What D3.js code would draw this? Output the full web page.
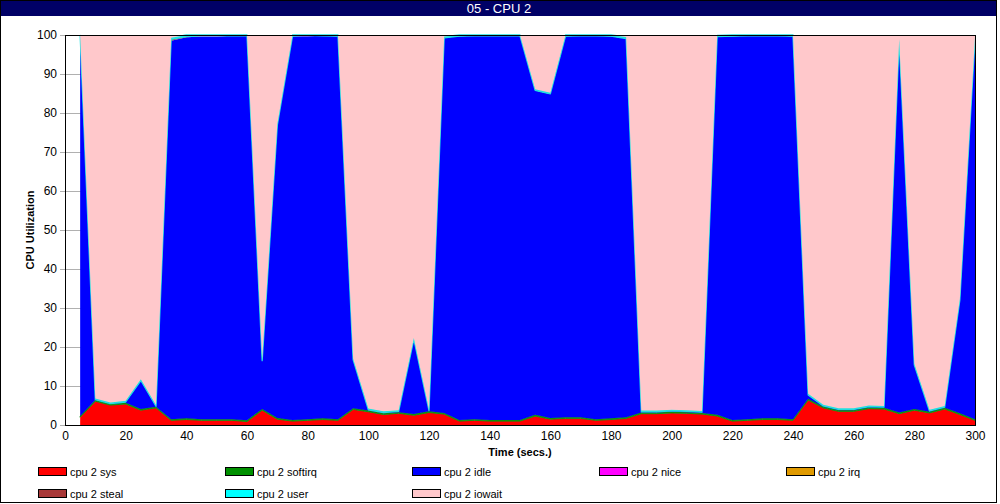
<!DOCTYPE html>
<html><head><meta charset="utf-8">
<script src="https://cdn.jsdelivr.net/npm/d3@7"></script>
<style>html,body{margin:0;padding:0;background:#fff;}svg{display:block;}</style>
</head><body>
<svg id="chart" width="1000" height="504"></svg>
<script>
const title = "05 - CPU 2";
const times = [5,10,15,20,25,30,35,40,45,50,55,60,65,70,75,80,85,90,95,100,105,110,115,120,125,130,135,140,145,150,155,160,165,170,175,180,185,190,195,200,205,210,215,220,225,230,235,240,245,250,255,260,265,270,275,280,285,290,295,300];
const sys = [2.0,6.1,5.1,5.4,3.8,4.4,1.2,1.4,1.2,1.2,1.2,0.9,3.8,1.5,1.0,1.2,1.4,1.2,4.0,3.4,2.7,3.0,2.5,3.2,2.8,1.0,1.2,1.0,1.0,1.0,2.3,1.5,1.7,1.7,1.2,1.4,1.7,2.9,2.9,3.1,3.0,2.8,2.3,1.0,1.2,1.4,1.4,1.2,6.4,4.4,3.5,3.5,4.2,4.1,2.9,3.8,3.1,4.1,2.7,1.2];
const softirq = [0.3,0.3,0.3,0.3,0.3,0.3,0.3,0.3,0.3,0.3,0.3,0.3,0.3,0.3,0.3,0.3,0.3,0.3,0.3,0.3,0.3,0.3,0.3,0.3,0.3,0.3,0.3,0.3,0.3,0.3,0.3,0.3,0.3,0.3,0.3,0.3,0.3,0.3,0.3,0.3,0.3,0.3,0.3,0.3,0.3,0.3,0.3,0.3,0.3,0.3,0.3,0.3,0.3,0.3,0.3,0.3,0.3,0.3,0.3,0.3];
const idle = [97.3,0.1,0.1,0.2,7.3,0.1,97.0,97.7,98.1,98.1,98.3,98.6,12.4,75.1,98.4,98.2,98.1,98.2,12.4,0.2,0.2,0.2,19.2,0.2,96.2,98.4,98.3,98.5,98.5,98.5,83.2,83.1,97.7,97.8,98.3,98.0,97.1,0.2,0.2,0.2,0.2,0.2,97.0,98.4,98.3,98.1,98.1,98.2,1.0,0.2,0.2,0.2,0.2,0.2,95.5,11.3,0.2,0.2,29.0,97.7];
const nice = [0,0,0,0,0,0,0,0,0.2,0.2,0,0,0,0,0,0.2,0,0,0,0,0,0,0,0,0,0,0,0,0,0,0,0,0,0,0,0,0,0,0,0,0,0,0,0,0,0,0,0,0,0,0,0,0,0,0,0,0,0,0,0];
const irq = [0,0,0,0,0,0,0,0,0,0,0,0,0,0,0,0,0,0,0,0,0,0,0,0,0,0,0,0,0,0,0,0,0,0,0,0,0,0,0,0,0,0,0,0,0,0,0,0,0,0,0,0,0,0,0,0,0,0,0,0];
const steal = [0,0,0,0,0,0,0.4,0.2,0,0,0,0,0,0,0,0,0,0,0,0,0,0,0,0,0,0,0,0,0,0,0,0,0,0,0,0,0,0,0,0,0,0,0,0,0,0,0,0,0,0,0,0,0,0,0,0,0,0,0,0];
const user = [0.3,0.3,0.3,0.3,0.3,0.3,0.4,0.4,0.2,0.2,0.2,0.2,0.3,0.3,0.3,0.1,0.2,0.3,0.3,0.3,0.3,0.3,0.3,0.3,0.3,0.3,0.2,0.2,0.2,0.2,0.3,0.3,0.3,0.2,0.2,0.3,0.4,0.3,0.3,0.3,0.3,0.3,0.3,0.3,0.2,0.2,0.2,0.3,0.3,0.3,0.3,0.3,0.3,0.3,0.3,0.3,0.3,0.3,0.3,0.3];
const iowait = [0.1,93.2,94.2,93.8,88.3,94.9,0.7,0.0,0,0,0,0,83.2,22.8,0,0,0,0,83.0,95.8,96.5,96.2,77.7,96.0,0.4,0,0,0,0,0,13.9,14.8,0,0,0,0,0.5,96.3,96.3,96.1,96.2,96.4,0.1,0,0,0,0,0,92.0,94.8,95.7,95.7,95.0,95.1,1.0,84.3,96.1,95.1,67.7,0.5];

const seriesNames = ["cpu 2 sys","cpu 2 softirq","cpu 2 idle","cpu 2 nice","cpu 2 irq","cpu 2 steal","cpu 2 user","cpu 2 iowait"];
const seriesColors = ["#ff0000","#009000","#0000ff","#ff00ff","#e09a00","#a83838","#00ffff","#ffc8cb"];
const xTicks = [0,20,40,60,80,100,120,140,160,180,200,220,240,260,280,300];
const yTicks = [0,10,20,30,40,50,60,70,80,90,100];

const keys = ["sys","softirq","idle","nice","irq","steal","user","iowait"];
const cols = [sys,softirq,idle,nice,irq,steal,user,iowait];
const rows = times.map((t,i)=>{const r={t}; keys.forEach((k,j)=>r[k]=cols[j][i]); return r;});

const svg = d3.select("#chart");
const W=1000,H=504;
const pL=65,pR=975,pT=35,pB=425;
const x = d3.scaleLinear().domain([0,300]).range([pL,pR]);
const y = d3.scaleLinear().domain([0,100]).range([pB,pT]);
const font = "'Liberation Sans', Arial, sans-serif";

// outer frame & title bar
svg.append("rect").attr("x",0).attr("y",0).attr("width",W).attr("height",H).attr("fill","#fff");
svg.append("rect").attr("x",0.5).attr("y",0.5).attr("width",996).attr("height",502).attr("fill","none").attr("stroke","#000");
svg.append("rect").attr("x",1).attr("y",1).attr("width",995).attr("height",15).attr("fill","#000066");
svg.append("text").attr("x",499).attr("y",13).attr("text-anchor","middle").attr("fill","#fff")
  .attr("font-family",font).attr("font-size",13).text(title);

// gridlines
svg.append("g").selectAll("line").data(yTicks).join("line")
  .attr("x1",pL-5).attr("x2",pR).attr("y1",d=>y(d)+0.5).attr("y2",d=>y(d)+0.5)
  .attr("stroke","#b0b0b0").attr("stroke-width",1);

// stacked areas
const stack = d3.stack().keys(keys)(rows);
const area = d3.area().x(d=>x(d.data.t)).y0(d=>y(d[0])).y1(d=>y(d[1])).curve(d3.curveLinear);
const g = svg.append("g");
stack.forEach((s,i)=>{
  const p = g.append("path").datum(s).attr("d",area).attr("fill",seriesColors[i]);
  if (keys[i]==="user") p.attr("stroke","#20e0e0").attr("stroke-width",1.3).attr("stroke-linejoin","round");
  if (keys[i]==="softirq") p.attr("stroke","#109010").attr("stroke-width",1);
});

// axes
const yAxis = d3.axisLeft(y).tickValues(yTicks).tickSize(0).tickPadding(8);
const ya = svg.append("g").attr("transform",`translate(${pL},0)`).call(yAxis);
const xAxis = d3.axisBottom(x).tickValues(xTicks).tickSize(0).tickPadding(6);
const xa = svg.append("g").attr("transform",`translate(0,${pB})`).call(xAxis);
[ya,xa].forEach(a=>{a.select(".domain").remove(); a.selectAll("text").attr("font-family",font).attr("font-size",12).attr("fill","#000");});

// plot border
svg.append("rect").attr("x",pL+0.5).attr("y",pT+0.5).attr("width",pR-pL).attr("height",pB-pT)
  .attr("fill","none").attr("stroke","#000");

// axis titles
svg.append("text").attr("transform","translate(34,230) rotate(-90)").attr("text-anchor","middle")
  .attr("font-family",font).attr("font-size",11).attr("font-weight","bold").text("CPU Utilization");
svg.append("text").attr("x",520).attr("y",456).attr("text-anchor","middle")
  .attr("font-family",font).attr("font-size",11).attr("font-weight","bold").text("Time (secs.)");

// legend
const lg = svg.append("g");
seriesNames.forEach((n,i)=>{
  const col=i%5,row=Math.floor(i/5);
  const lx = 38 + col*187, ly = 467 + row*22;
  lg.append("rect").attr("x",lx+0.5).attr("y",ly+0.5).attr("width",28).attr("height",8)
    .attr("fill",seriesColors[i]).attr("stroke","#000");
  lg.append("text").attr("x",lx+32).attr("y",ly+9).attr("font-family",font).attr("font-size",11).text(n);
});
</script>
</body></html>
